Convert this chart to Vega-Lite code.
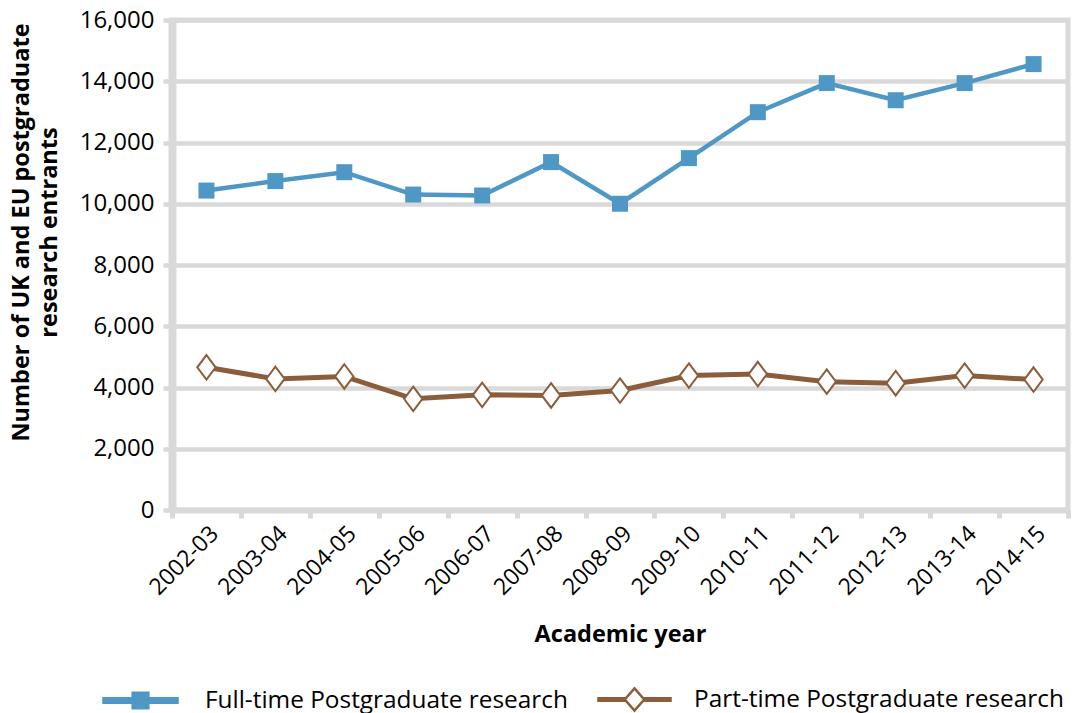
{
  "$schema": "https://vega.github.io/schema/vega-lite/v6.json",
  "width": 896,
  "height": 490,
  "autosize": {"type": "none"},
  "padding": {"left": 172, "top": 20, "right": 4, "bottom": 203},
  "background": "#ffffff",
  "config": {
    "view": {"stroke": "#d9d9d9", "strokeWidth": 5},
    "font": "Open Sans",
    "axis": {
      "labelFont": "Open Sans",
      "labelColor": "#000000",
      "titleFont": "Open Sans",
      "titleColor": "#000000",
      "titleFontWeight": "bold",
      "domainColor": "#d9d9d9",
      "tickColor": "#d9d9d9",
      "gridColor": "#d9d9d9"
    },
    "legend": {"labelFont": "Open Sans", "labelFontSize": 24.4, "labelColor": "#000000", "labelLimit": 600, "padding": 0}
  },
  "data": {
    "values": [
      {"year": "2002-03", "series": "Full-time Postgraduate research", "value": 10430},
      {"year": "2003-04", "series": "Full-time Postgraduate research", "value": 10740},
      {"year": "2004-05", "series": "Full-time Postgraduate research", "value": 11030},
      {"year": "2005-06", "series": "Full-time Postgraduate research", "value": 10300},
      {"year": "2006-07", "series": "Full-time Postgraduate research", "value": 10270},
      {"year": "2007-08", "series": "Full-time Postgraduate research", "value": 11360},
      {"year": "2008-09", "series": "Full-time Postgraduate research", "value": 10000},
      {"year": "2009-10", "series": "Full-time Postgraduate research", "value": 11490},
      {"year": "2010-11", "series": "Full-time Postgraduate research", "value": 12990},
      {"year": "2011-12", "series": "Full-time Postgraduate research", "value": 13940},
      {"year": "2012-13", "series": "Full-time Postgraduate research", "value": 13380},
      {"year": "2013-14", "series": "Full-time Postgraduate research", "value": 13940},
      {"year": "2014-15", "series": "Full-time Postgraduate research", "value": 14560},
      {"year": "2002-03", "series": "Part-time Postgraduate research", "value": 4660},
      {"year": "2003-04", "series": "Part-time Postgraduate research", "value": 4280},
      {"year": "2004-05", "series": "Part-time Postgraduate research", "value": 4360},
      {"year": "2005-06", "series": "Part-time Postgraduate research", "value": 3630},
      {"year": "2006-07", "series": "Part-time Postgraduate research", "value": 3760},
      {"year": "2007-08", "series": "Part-time Postgraduate research", "value": 3740},
      {"year": "2008-09", "series": "Part-time Postgraduate research", "value": 3900},
      {"year": "2009-10", "series": "Part-time Postgraduate research", "value": 4390},
      {"year": "2010-11", "series": "Part-time Postgraduate research", "value": 4440},
      {"year": "2011-12", "series": "Part-time Postgraduate research", "value": 4190},
      {"year": "2012-13", "series": "Part-time Postgraduate research", "value": 4140},
      {"year": "2013-14", "series": "Part-time Postgraduate research", "value": 4390},
      {"year": "2014-15", "series": "Part-time Postgraduate research", "value": 4260}
    ]
  },
  "encoding": {
    "x": {
      "field": "year",
      "type": "ordinal",
      "sort": null,
      "scale": {"type": "band", "paddingInner": 0, "paddingOuter": 0},
      "axis": {
        "title": "Academic year",
        "titleFontSize": 23.5,
        "titleY": 131,
        "titleBaseline": "alphabetic",
        "labelAngle": -45,
        "labelFontSize": 23,
        "labelPadding": 4,
        "tickBand": "extent",
        "tickSize": 8,
        "tickWidth": 5,
        "domainWidth": 6,
        "grid": false
      }
    },
    "y": {
      "field": "value",
      "type": "quantitative",
      "scale": {"domain": [0, 16000], "nice": false},
      "axis": {
        "title": ["Number of UK and EU postgraduate", "research  entrants"],
        "titleFontSize": 23.5,
        "titleLineHeight": 28,
        "titleAngle": -90,
        "titleX": -144,
        "titleY": 212,
        "titleAlign": "center",
        "titleBaseline": "alphabetic",
        "values": [0, 2000, 4000, 6000, 8000, 10000, 12000, 14000, 16000],
        "format": ",d",
        "labelFontSize": 24,
        "labelPadding": 9,
        "tickSize": 9,
        "tickWidth": 4.5,
        "gridWidth": 4.5,
        "domainWidth": 8,
        "grid": true
      }
    }
  },
  "layer": [
    {
      "mark": {"type": "line"},
      "encoding": {
        "strokeWidth": {
          "field": "series",
          "type": "nominal",
          "scale": {"domain": ["Full-time Postgraduate research", "Part-time Postgraduate research"], "range": [4.5, 5]},
          "legend": null
        },
        "color": {
          "field": "series",
          "type": "nominal",
          "scale": {
            "domain": ["Full-time Postgraduate research", "Part-time Postgraduate research"],
            "range": ["#4f98c6", "#8b5d3b"]
          },
          "legend": {
            "title": null,
            "values": ["Full-time Postgraduate research"],
            "orient": "none",
            "legendX": -70,
            "legendY": 642,
            "symbolType": "M-1,-0.035H1V0.035H-1Z M-0.19,-0.19H0.19V0.19H-0.19Z",
            "symbolSize": 5184,
            "symbolFillColor": "#4f98c6",
            "symbolStrokeColor": "#4f98c6",
            "symbolStrokeWidth": 2.5,
            "symbolOpacity": 1,
            "labelOffset": 26
          }
        }
      }
    },
    {
      "transform": [{"filter": "datum.series == 'Full-time Postgraduate research'"}],
      "mark": {"type": "point", "shape": "square", "filled": true, "size": 256, "opacity": 1, "color": "#4f98c6"}
    },
    {
      "transform": [{"filter": "datum.series == 'Part-time Postgraduate research'"}],
      "mark": {
        "type": "point",
        "shape": "M0,-1L0.75,0L0,1L-0.75,0Z",
        "filled": true,
        "fillOpacity": 1,
        "stroke": "#8b5d3b",
        "strokeWidth": 2,
        "strokeOpacity": 1,
        "size": 600,
        "opacity": 1
      },
      "encoding": {
        "fill": {
          "field": "series",
          "type": "nominal",
          "scale": {"domain": ["Part-time Postgraduate research"], "range": ["#ffffff"]},
          "legend": {
            "title": null,
            "orient": "none",
            "legendX": 425,
            "legendY": 642,
            "symbolType": "M-1,-0.035H-0.27V0.035H-1Z M0.27,-0.035H1V0.035H0.27Z M0,-0.31L0.27,0L0,0.31L-0.27,0Z",
            "symbolSize": 5184,
            "symbolStrokeColor": "#8b5d3b",
            "symbolStrokeWidth": 2.5,
            "symbolOpacity": 1,
            "labelOffset": 22
          }
        }
      }
    }
  ]
}
